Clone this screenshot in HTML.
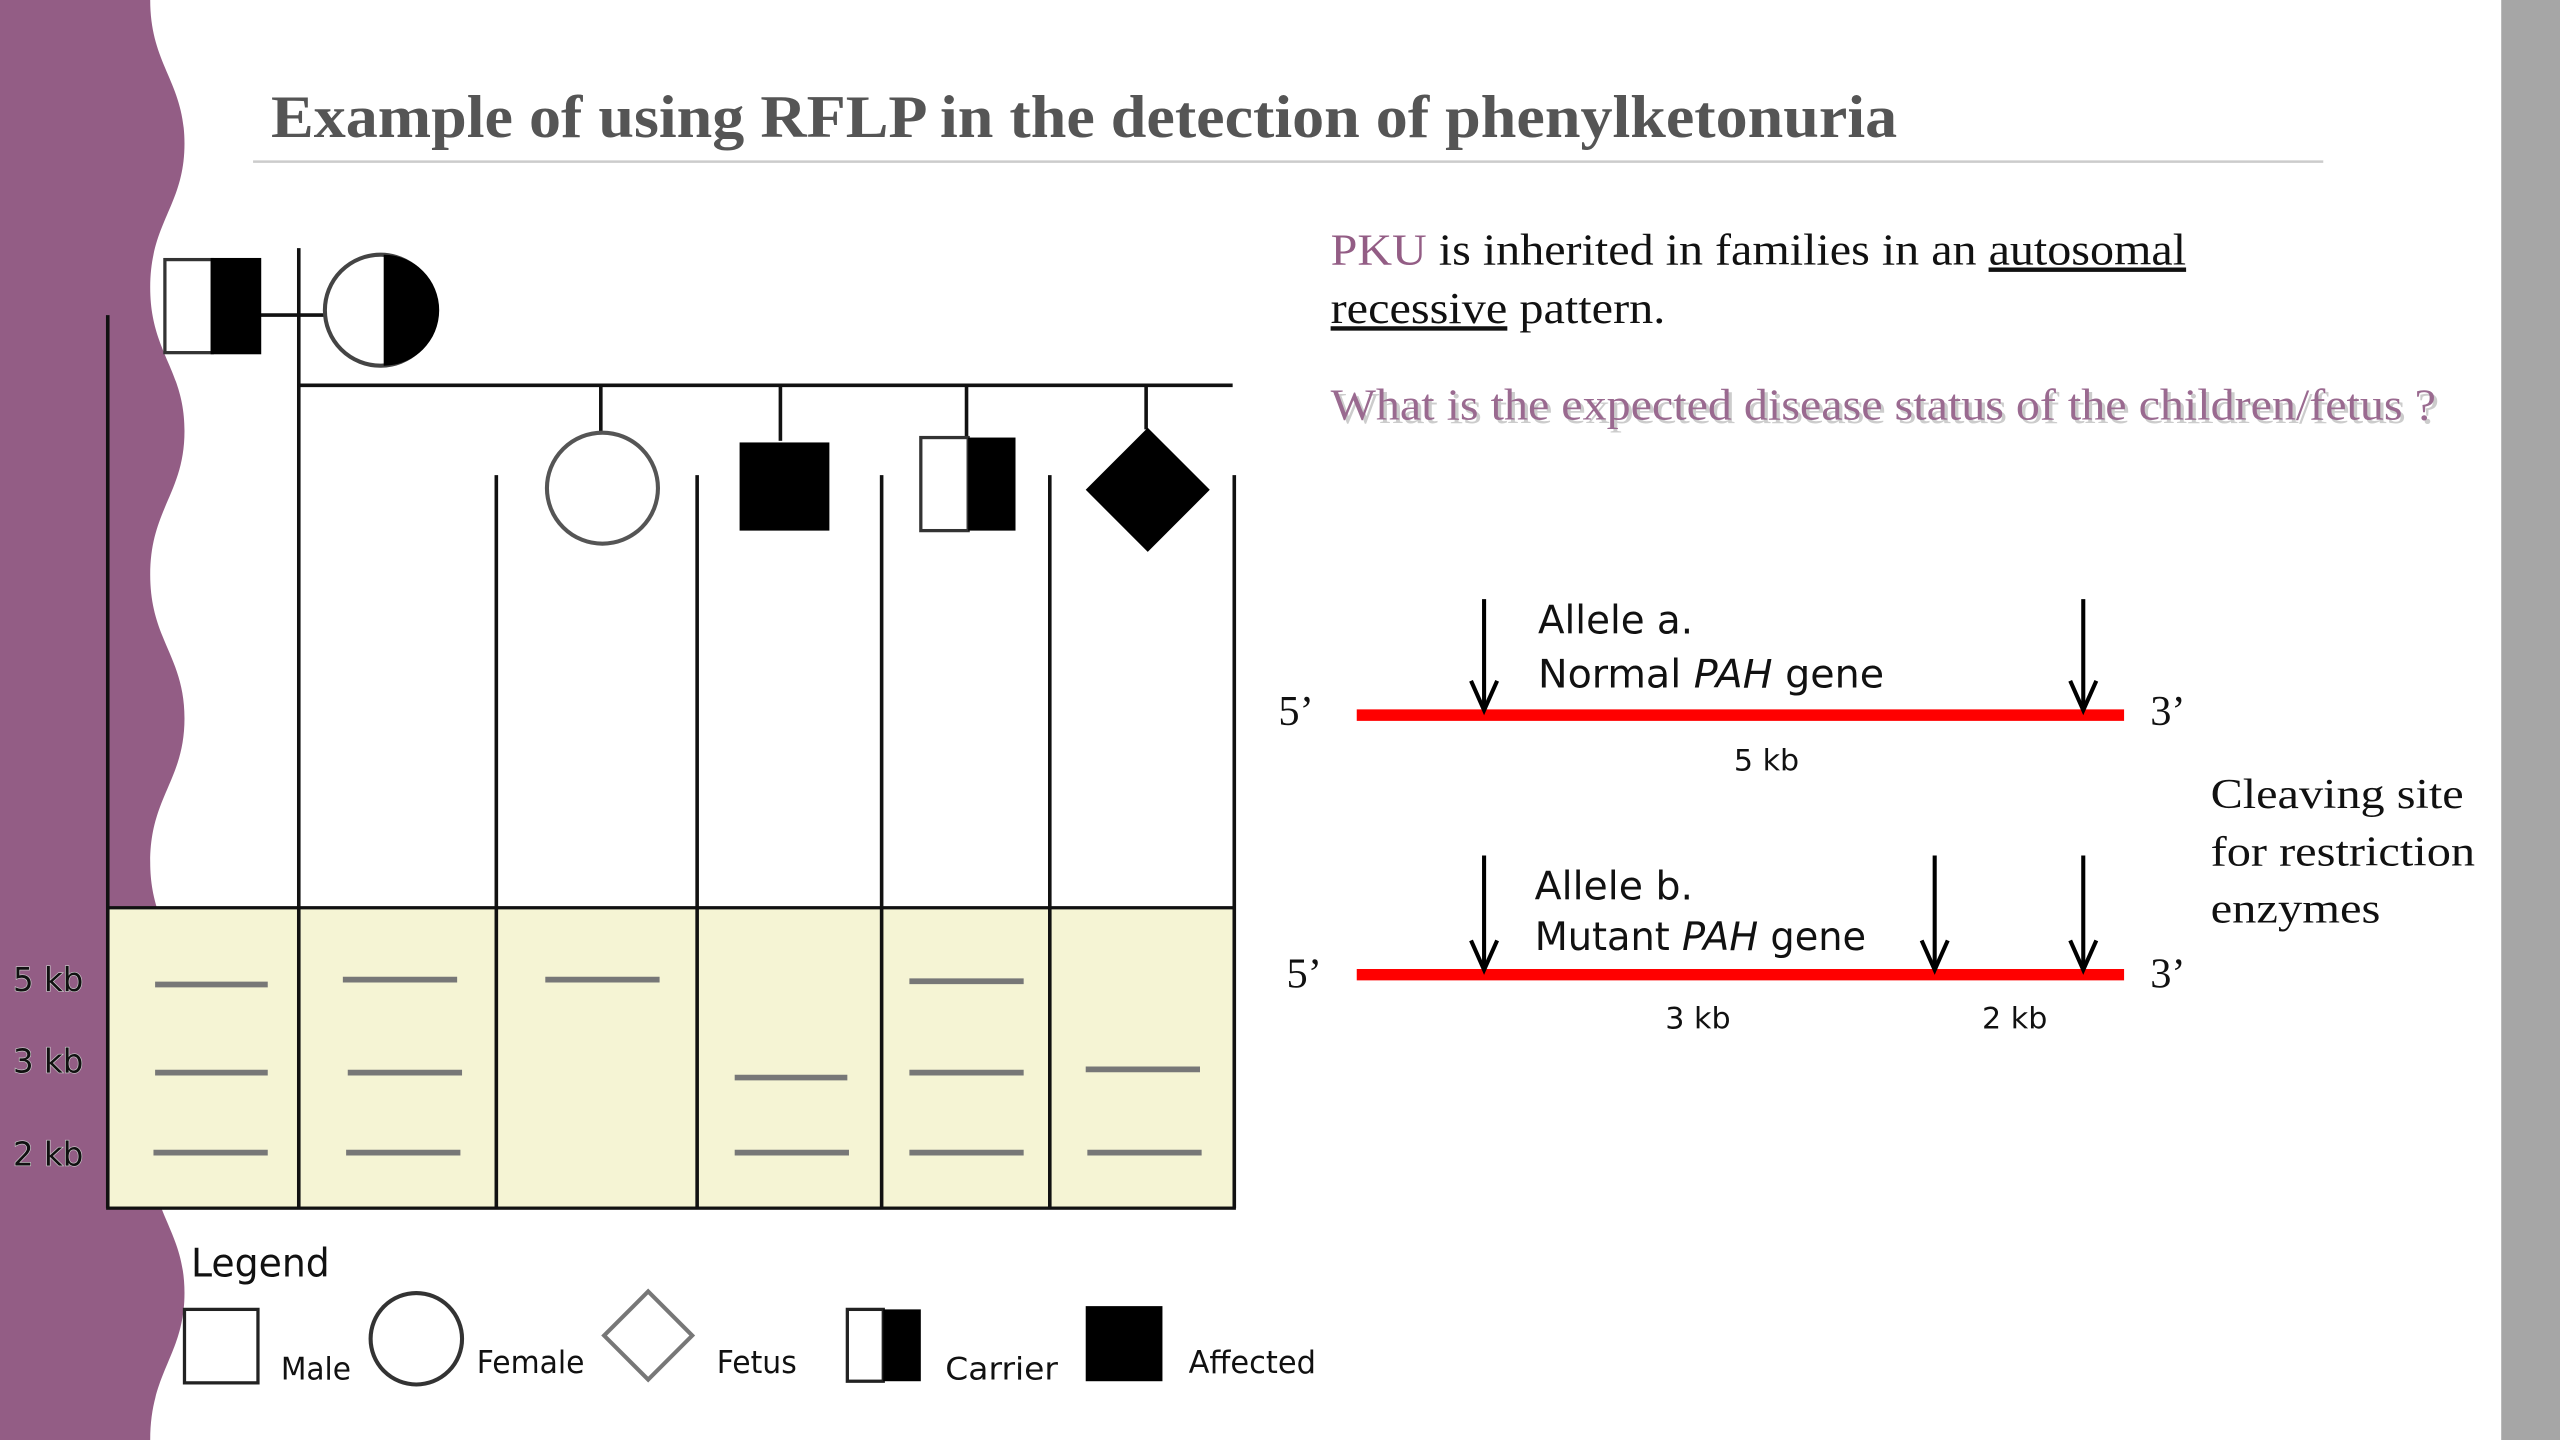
<!DOCTYPE html>
<html><head><meta charset="utf-8"><style>
html,body{margin:0;padding:0;background:#fff}
svg{display:block}
.s{font-family:"DejaVu Sans","Liberation Sans",sans-serif}
.r{font-family:"Liberation Serif",serif}
</style></head><body>
<svg width="2560" height="1440" viewBox="0 0 1568 882" xmlns="http://www.w3.org/2000/svg">
<rect width="1568" height="882" fill="#fff"/>
<path d="M0,0 L92,0 C92,40 113,50 113,88 C113,126 92,136 92,176 C92,216 113,226 113,264 C113,302 92,312 92,352 C92,392 113,402 113,440 C113,478 92,488 92,528 C92,568 113,578 113,616 C113,654 92,664 92,704 C92,744 113,754 113,792 C113,830 92,840 92,882 L0,882 Z" fill="#935d85"/>
<rect x="1532" y="0" width="36" height="882" fill="#a6a6a6"/>
<text x="166" y="84" class="r" font-size="37" font-weight="bold" fill="#555" textLength="996" lengthAdjust="spacingAndGlyphs">Example of using RFLP in the detection of phenylketonuria</text>
<line x1="155" y1="99" x2="1423" y2="99" stroke="#ccc" stroke-width="1.5"/>
<rect x="66" y="556" width="690" height="184" fill="#f5f4d4" stroke="#111" stroke-width="2"/>
<g stroke="#111" stroke-width="2.2">
<line x1="66" y1="193" x2="66" y2="740"/>
<line x1="183" y1="152" x2="183" y2="740"/>
<line x1="304" y1="291" x2="304" y2="740"/>
<line x1="427" y1="291" x2="427" y2="740"/>
<line x1="540" y1="291" x2="540" y2="740"/>
<line x1="643" y1="291" x2="643" y2="740"/>
<line x1="756" y1="291" x2="756" y2="740"/>
<line x1="183" y1="236" x2="755" y2="236"/>
<line x1="368" y1="236" x2="368" y2="266"/>
<line x1="478" y1="236" x2="478" y2="270"/>
<line x1="592" y1="236" x2="592" y2="268"/>
<line x1="702" y1="236" x2="702" y2="263"/>
<line x1="159" y1="193" x2="199" y2="193"/>
</g>
<g stroke="#777" stroke-width="3.5">
<line x1="95" y1="603" x2="164" y2="603"/><line x1="95" y1="657" x2="164" y2="657"/><line x1="94" y1="706" x2="164" y2="706"/>
<line x1="210" y1="600" x2="280" y2="600"/><line x1="213" y1="657" x2="283" y2="657"/><line x1="212" y1="706" x2="282" y2="706"/>
<line x1="334" y1="600" x2="404" y2="600"/>
<line x1="450" y1="660" x2="519" y2="660"/><line x1="450" y1="706" x2="520" y2="706"/>
<line x1="557" y1="601" x2="627" y2="601"/><line x1="557" y1="657" x2="627" y2="657"/><line x1="557" y1="706" x2="627" y2="706"/>
<line x1="665" y1="655" x2="735" y2="655"/><line x1="666" y1="706" x2="736" y2="706"/>
</g>
<rect x="101" y="159" width="29" height="57" fill="#fff" stroke="#333" stroke-width="2"/>
<rect x="130" y="159" width="29" height="57" fill="#000" stroke="#000" stroke-width="2"/>
<circle cx="233" cy="190" r="34" fill="#fff" stroke="#444" stroke-width="2.5"/>
<path d="M235,156 A34,34 0 0 1 235,224 Z" fill="#000"/>
<circle cx="369" cy="299" r="34" fill="#fff" stroke="#555" stroke-width="2.5"/>
<rect x="453" y="271" width="55" height="54" fill="#000"/>
<rect x="564" y="268" width="29" height="57" fill="#fff" stroke="#333" stroke-width="2"/>
<rect x="593" y="268" width="29" height="57" fill="#000"/>
<polygon points="703,262 741,300 703,338 665,300" fill="#000"/>
<g class="s" font-size="20" fill="#111" stroke="#ccc" stroke-width="0.8" paint-order="stroke">
<text x="8" y="607" textLength="43" lengthAdjust="spacingAndGlyphs">5 kb</text><text x="8" y="657" textLength="43" lengthAdjust="spacingAndGlyphs">3 kb</text><text x="8" y="714" textLength="43" lengthAdjust="spacingAndGlyphs">2 kb</text>
</g>
<text x="117" y="782" class="s" font-size="24" fill="#111" textLength="85" lengthAdjust="spacingAndGlyphs">Legend</text>
<rect x="113" y="802" width="45" height="45" fill="#fff" stroke="#222" stroke-width="2"/>
<text x="172" y="845" class="s" font-size="19" fill="#111" textLength="43" lengthAdjust="spacingAndGlyphs">Male</text>
<circle cx="255" cy="820" r="28" fill="#fff" stroke="#333" stroke-width="2.5"/>
<text x="292" y="841" class="s" font-size="19" fill="#111" textLength="66" lengthAdjust="spacingAndGlyphs">Female</text>
<polygon points="397,791 424,818 397,845 370,818" fill="#fff" stroke="#777" stroke-width="2.5"/>
<text x="439" y="841" class="s" font-size="19" fill="#111" textLength="49" lengthAdjust="spacingAndGlyphs">Fetus</text>
<rect x="519" y="802" width="22" height="44" fill="#fff" stroke="#222" stroke-width="2"/>
<rect x="541" y="802" width="23" height="44" fill="#000"/>
<text x="579" y="845" class="s" font-size="19" fill="#111" textLength="69" lengthAdjust="spacingAndGlyphs">Carrier</text>
<rect x="665" y="800" width="47" height="46" fill="#000"/>
<text x="728" y="841" class="s" font-size="19" fill="#111" textLength="78" lengthAdjust="spacingAndGlyphs">Affected</text>
<text x="815" y="162" class="r" font-size="27" fill="#111" textLength="524" lengthAdjust="spacingAndGlyphs"><tspan fill="#935d85">PKU</tspan> is inherited in families in an <tspan text-decoration="underline">autosomal</tspan></text>
<text x="815" y="198" class="r" font-size="27" fill="#111" textLength="205" lengthAdjust="spacingAndGlyphs"><tspan text-decoration="underline">recessive</tspan> pattern.</text>
<text x="817" y="259" class="r" font-size="27" fill="#ccc" textLength="677" lengthAdjust="spacingAndGlyphs">What is the expected disease status of the children/fetus ?</text>
<text x="815" y="257" class="r" font-size="27" fill="#9a6a90" textLength="677" lengthAdjust="spacingAndGlyphs">What is the expected disease status of the children/fetus ?</text>
<g stroke="#f00" stroke-width="7"><line x1="831" y1="438" x2="1301" y2="438"/><line x1="831" y1="597" x2="1301" y2="597"/></g>
<g stroke="#000" stroke-width="2.5" fill="none">
<line x1="909" y1="367" x2="909" y2="435"/><path d="M901,417 L909,435 L917,417"/>
<line x1="1276" y1="367" x2="1276" y2="435"/><path d="M1268,417 L1276,435 L1284,417"/>
<line x1="909" y1="524" x2="909" y2="594"/><path d="M901,576 L909,594 L917,576"/>
<line x1="1185" y1="524" x2="1185" y2="594"/><path d="M1177,576 L1185,594 L1193,576"/>
<line x1="1276" y1="524" x2="1276" y2="594"/><path d="M1268,576 L1276,594 L1284,576"/>
</g>
<g class="s" fill="#111">
<text x="942" y="388" font-size="24" textLength="95" lengthAdjust="spacingAndGlyphs">Allele a.</text>
<text x="942" y="421" font-size="24" textLength="212" lengthAdjust="spacingAndGlyphs">Normal <tspan font-style="italic">PAH</tspan> gene</text>
<text x="940" y="551" font-size="24" textLength="97" lengthAdjust="spacingAndGlyphs">Allele b.</text>
<text x="940" y="582" font-size="24" textLength="203" lengthAdjust="spacingAndGlyphs">Mutant <tspan font-style="italic">PAH</tspan> gene</text>
<text x="1062" y="472" font-size="18" textLength="40" lengthAdjust="spacingAndGlyphs">5 kb</text>
<text x="1020" y="630" font-size="18" textLength="40" lengthAdjust="spacingAndGlyphs">3 kb</text>
<text x="1214" y="630" font-size="18" textLength="40" lengthAdjust="spacingAndGlyphs">2 kb</text>
</g>
<g class="r" font-size="26" fill="#111">
<text x="783" y="444">5’</text><text x="1317" y="444">3’</text>
<text x="788" y="605">5’</text><text x="1317" y="605">3’</text>
<text x="1354" y="495" textLength="155" lengthAdjust="spacingAndGlyphs">Cleaving site</text>
<text x="1354" y="530" textLength="162" lengthAdjust="spacingAndGlyphs">for restriction</text>
<text x="1354" y="565" textLength="104" lengthAdjust="spacingAndGlyphs">enzymes</text>
</g>
</svg>
</body></html>
